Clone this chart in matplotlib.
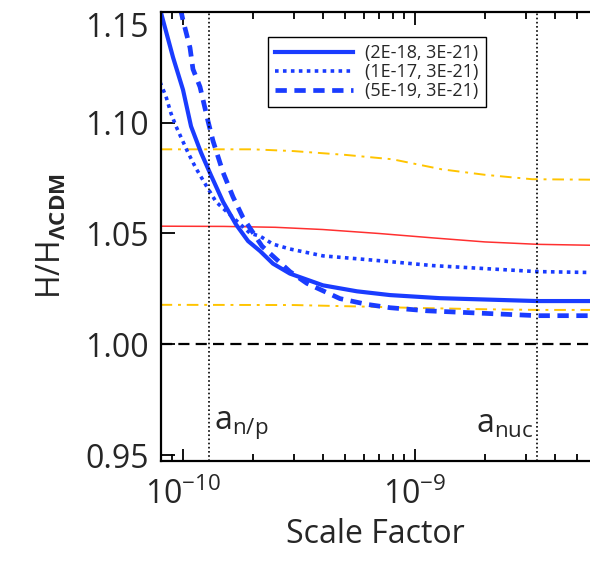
import numpy as np
import matplotlib
matplotlib.use("Agg")
import matplotlib.pyplot as plt
from matplotlib.ticker import LogLocator, NullFormatter, FixedLocator, FixedFormatter

FONT = "Open Sans"
plt.rcParams["font.family"] = [FONT, "DejaVu Sans"]
plt.rcParams["mathtext.fontset"] = "custom"
plt.rcParams["mathtext.rm"] = FONT
plt.rcParams["mathtext.it"] = FONT + ":italic"
plt.rcParams["mathtext.bf"] = FONT + ":bold"

# scale factor / expansion-rate ratio for the three (xi, sigma) models
a_solid = [8.04e-11, 8.20e-11, 9.06e-11, 1.0e-10, 1.083e-10, 1.196e-10, 1.320e-10,
           1.488e-10, 1.692e-10, 1.907e-10, 2.148e-10, 2.443e-10, 2.89e-10,
           4.01e-10, 5.62e-10, 7.80e-10, 1.282e-9, 3.36e-9, 5.7e-9]
h_solid = [1.1497, 1.1463, 1.1295, 1.1149, 1.0984, 1.0865, 1.0763,
           1.0643, 1.0541, 1.0466, 1.0421, 1.0364, 1.0319,
           1.0266, 1.0239, 1.0222, 1.0208, 1.0195, 1.0195]

a_dot = [7.96e-11, 8.45e-11, 8.88e-11, 9.33e-11, 1.051e-10, 1.138e-10, 1.256e-10,
         1.388e-10, 1.945e-10, 2.148e-10, 2.443e-10, 2.89e-10, 4.01e-10,
         5.62e-10, 7.80e-10, 1.196e-9, 3.36e-9, 5.7e-9]
h_dot = [1.1184, 1.1118, 1.1042, 1.0984, 1.0865, 1.0794, 1.0718,
         1.0643, 1.0501, 1.0488, 1.0452, 1.0430, 1.0399,
         1.0386, 1.0373, 1.0355, 1.0328, 1.0324]

a_dash = [9.75e-11, 1.0e-10, 1.072e-10, 1.104e-10, 1.184e-10, 1.282e-10, 1.347e-10,
          1.488e-10, 1.643e-10, 1.814e-10, 2.19e-10, 2.89e-10, 3.42e-10,
          4.75e-10, 6.21e-10, 7.80e-10, 1.126e-9, 3.36e-9, 5.7e-9]
h_dash = [1.1515, 1.1463, 1.1339, 1.1242, 1.1162, 1.1007, 1.0918,
          1.0776, 1.0665, 1.0572, 1.0443, 1.0328, 1.0275,
          1.0206, 1.0180, 1.0165, 1.0151, 1.0129, 1.0129]

labels = ["(2E-18, 3E-21)", "(1E-17, 3E-21)", "(5E-19, 3E-21)"]

# constraint bands
a_red = [8e-11, 1.5e-10, 2.5e-10, 4e-10, 7e-10, 1.2e-9, 2e-9, 3.4e-9, 5.7e-9]
h_red = [1.0533, 1.0532, 1.0528, 1.0518, 1.0500, 1.0480, 1.0462, 1.0451, 1.0447]

a_yel_hi = [8e-11, 2e-10, 3e-10, 5e-10, 8e-10, 1.3e-9, 2e-9, 3.2e-9, 5.7e-9]
h_yel_hi = [1.088, 1.088, 1.0872, 1.0855, 1.0835, 1.079, 1.0765, 1.0745, 1.0743]

a_yel_lo = [8e-11, 3e-10, 6e-10, 1e-9, 2e-9, 3.4e-9, 5.7e-9]
h_yel_lo = [1.0178, 1.0177, 1.0170, 1.0164, 1.0158, 1.0155, 1.0155]

a_np = 1.3e-10
a_nuc = 3.36e-9

blue = "#1a3cff"
ink = "#262626"

fig = plt.figure(figsize=(5.9, 5.63), dpi=100)
ax = fig.add_axes([0.2729, 0.1812, 0.7271, 0.7975])

ax.plot(a_red, h_red, color="#ff3030", lw=1.1)
ax.plot(a_yel_hi, h_yel_hi, color="#ffc400", lw=1.4, dashes=(6, 3, 1.5, 3))
ax.plot(a_yel_lo, h_yel_lo, color="#ffc400", lw=1.4, dashes=(6, 3, 1.5, 3))

l1, = ax.plot(a_solid, h_solid, color=blue, lw=3.0)
l2, = ax.plot(a_dot, h_dot, color=blue, lw=2.6, dashes=(1.0, 1.2))
l3, = ax.plot(a_dash, h_dash, color=blue, lw=3.4, dashes=(2.4, 1.6))

ax.axhline(1.0, color="black", lw=1.6, dashes=(5, 2.8))
ax.axvline(a_np, color="black", lw=1.2, dashes=(1, 1.5))
ax.axvline(a_nuc, color="black", lw=1.2, dashes=(1, 1.5))

ax.text(1.36e-10, 0.9565, r"$\mathregular{a_{n/p}}$", fontsize=23, ha="left", va="bottom", color=ink)
ax.text(3.25e-9, 0.9565, r"$\mathregular{a_{nuc}}$", fontsize=23, ha="right", va="bottom", color=ink)

leg = ax.legend([l1, l2, l3], labels, loc="upper left", bbox_to_anchor=(0.249, 0.944),
                borderaxespad=0, fontsize=13, handlelength=4.3, labelspacing=0.05,
                fancybox=False, framealpha=1, edgecolor="black", borderpad=0.4,
                handletextpad=0.7)
leg.get_frame().set_linewidth(1.0)
for t in leg.get_texts():
    t.set_color(ink)

ax.set_xscale("log")
ax.set_xlim(8.04e-11, 5.68e-9)
ax.set_ylim(0.9473, 1.15)

ax.xaxis.set_major_locator(FixedLocator([1e-10, 1e-9]))
ax.xaxis.set_major_formatter(FixedFormatter([r"$\mathregular{10^{-10}}$", r"$\mathregular{10^{-9}}$"]))
ax.xaxis.set_minor_locator(LogLocator(base=10, subs=np.arange(2, 10)))
ax.xaxis.set_minor_formatter(NullFormatter())
ax.set_yticks([0.95, 1.00, 1.05, 1.10, 1.15])
ax.set_yticklabels(["0.95", "1.00", "1.05", "1.10", "1.15"])

ax.tick_params(axis="both", which="both", direction="in", top=True, right=False,
               labelsize=23, width=1.3, colors="black", labelcolor=ink)
ax.tick_params(axis="x", which="major", length=9, pad=13)
ax.tick_params(axis="x", which="minor", length=5)
ax.tick_params(axis="y", which="major", length=10, pad=9)
ax.yaxis.get_major_ticks()[-1].label1.set_va("top")

for side in ["left", "bottom", "top"]:
    ax.spines[side].set_linewidth(1.6)
ax.spines["right"].set_visible(False)

ax.set_xlabel("Scale Factor", fontsize=23, color=ink, labelpad=4)
ax.set_ylabel(r"H/H$_{\mathbf{\Lambda CDM}}$", fontsize=23, color=ink, labelpad=12)

fig.savefig("out.png", dpi=100)
